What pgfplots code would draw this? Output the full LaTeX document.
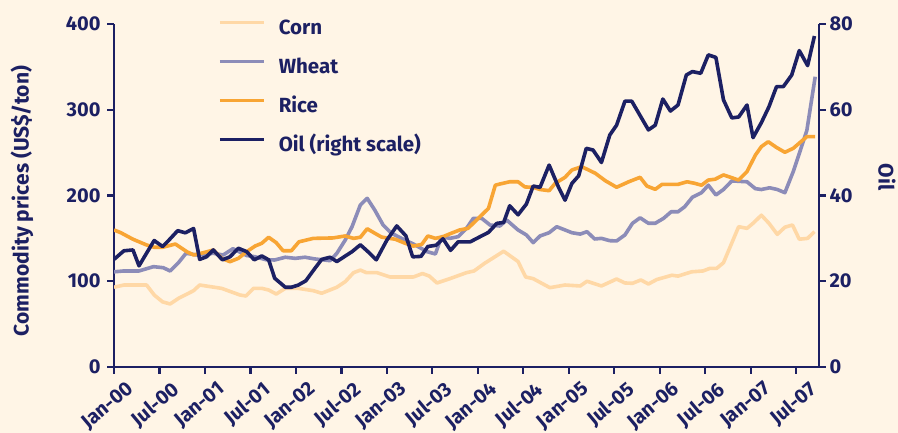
\documentclass[border=0pt]{standalone}
\usepackage{fontspec}
\setmainfont{Fira Sans}
\usepackage{pgfplots}
\pgfplotsset{compat=1.18}
\definecolor{bgcream}{HTML}{FFF5E6}
\definecolor{navy}{HTML}{1C2063}
\definecolor{corn}{HTML}{FFD8A6}
\definecolor{wheat}{HTML}{8C8CB8}
\definecolor{rice}{HTML}{F8A534}
\newcommand{\tf}{\fontsize{20}{23}\selectfont\bfseries}

\pgfplotsset{
  common/.style={
    at={(114pt,66pt)}, anchor=south west,
    scale only axis, width=705pt, height=343pt,
    xmin=0, xmax=93,
    tick align=outside, major tick length=7pt,
    axis line style={navy, line width=2.2pt},
    tick style={navy, line width=2.2pt},
    tick label style={font=\tf, text=navy},
    label style={font=\fontsize{21}{23}\selectfont\bfseries, text=navy},
    /pgf/number format/assume math mode=true,
    every axis plot/.append style={line width=3.6pt, line join=round, no markers},
  }
}

\begin{document}
\begin{tikzpicture}[x=1pt,y=1pt]
\fill[bgcream] (0,0) rectangle (898,433);
\path[use as bounding box] (0,0) rectangle (898,433);

\begin{axis}[common,
  ymin=0, ymax=400,
  axis x line*=bottom, axis y line*=left,
  ytick={0,100,...,400},
  xtick={0,6,...,90},
  xticklabels={Jan-00,Jul-00,Jan-01,Jul-01,Jan-02,Jul-02,Jan-03,Jul-03,Jan-04,Jul-04,Jan-05,Jul-05,Jan-06,Jul-06,Jan-07,Jul-07},
  xticklabel style={rotate=40, anchor=north east, inner sep=0pt, xshift=5pt, yshift=-12pt},
  yticklabel style={xshift=-3pt},
  ylabel={Commodity prices (US\$/ton)},
  ylabel style={at={(axis description cs:-0.1305,0.484)}, anchor=center},
  legend style={at={(0.1475,1.015)}, anchor=north west, draw=none, fill=none,
    font=\fontsize{20.5}{23}\selectfont\bfseries, text=navy, inner sep=0pt, row sep=19.5pt,
    nodes={inner sep=0pt, text height=15pt, text depth=4.5pt}},
  legend cell align=left,
  /tikz/every odd column/.append style={column sep=13pt},
  legend image code/.code={\draw[#1] (0pt,6.5pt) -- (44pt,6.5pt);},
]
\addplot[corn] coordinates {
(0,93) (1.3,95.6) (4.3,95.6) (5.3,84) (6.4,76) (7.4,73.5) (8.5,80) (10.5,89)
(11.3,95.6) (14.2,91.7) (16.6,84) (17.4,82.8) (18.4,91.7) (19.5,91.7) (20.4,89.8)
(21.4,85.1) (22.6,91.7) (24.3,91.7) (26.3,89) (27.4,86) (29.4,93) (30.5,99.5)
(31.6,110) (32.5,113) (33.3,110) (34.7,110) (36.4,105) (39.5,105) (40.7,109)
(41.6,106) (42.6,98) (44.3,103) (46.5,110) (47.5,112) (48.9,121) (49.8,126)
(51.4,135) (53.3,123) (54.3,105) (55.3,103) (57.5,92.5) (59.5,95.6) (61.5,94.5)
(62.4,100) (64.3,94.5) (66.3,102.6) (67.4,98) (68.4,97.6) (69.5,101.5) (70.5,96.8)
(71.6,102) (73.6,107) (74.4,106) (76.2,111) (77.7,112) (78.6,115) (79.5,115)
(80.4,121.6) (82.4,163.6) (83.5,161.7) (84.3,167.6) (85.4,177) (86.4,167.6)
(87.5,154.7) (88.5,163) (89.5,165.6) (90.4,149) (91.5,150) (92.4,157.8)
};
\addlegendentry{Corn}
\addplot[wheat] coordinates {
(0,111) (1.3,112) (3.3,112) (5.2,117) (6.5,115.8) (7.4,112) (8.5,121.6) (9.5,132.6)
(11,130.6) (13.1,132.6) (14.4,130.6) (15.7,138) (17.5,130) (18.6,128.6) (20.1,125)
(21.2,124.8) (22.6,128) (23.9,126.7) (25.2,128) (26.5,126) (28.5,124) (29.4,132.6)
(30.5,148) (31.4,163.6) (32.5,189) (33.4,196.7) (34.4,183) (35.5,165.6) (36.6,156)
(38.4,148) (39.5,143.4) (41.3,134.5) (42.4,131.8) (43.2,152) (44.3,150) (45.4,152)
(46.5,161.7) (47.4,173.4) (48.5,173.4) (49.6,165.6) (50.9,164.4) (51.8,171.4)
(53.3,159.8) (54.4,154) (55.3,145) (56.2,152.8) (57.4,156.6) (58.4,163.6) (59.5,159.8)
(60.4,156.6) (61.5,155) (62.4,157.8) (63.4,149.3) (64.3,150) (65.4,147.3) (66.3,147)
(67.4,154) (68.4,167.6) (69.4,174) (70.5,167.6) (71.4,167.6) (72.5,173.4) (73.5,181)
(74.4,181) (75.3,187) (76.3,198) (76.9,200.6) (77.5,203.3) (78.4,212) (79.4,200.6)
(80.4,207) (81.5,217) (83.5,216) (84.6,208) (85.4,207) (86.5,209) (87.5,207)
(88.5,203.3) (89.6,227.8) (90.7,257) (91.4,276) (92.5,338.5)
};
\addlegendentry{Wheat}
\addplot[rice] coordinates {
(0,159.8) (0.9,156.6) (2.5,149) (4.3,142.3) (5.3,139.6) (6.4,139.6) (8.1,143.4)
(9.6,134.5) (10.5,130.6) (11.8,133.3) (13.1,136.4) (14.2,126.7) (15.3,122.8)
(16.4,126.7) (17.5,134.5) (18.6,141) (19.5,144.3) (20.4,151.3) (21.4,145) (22.3,135.6)
(23.4,135.6) (24.4,146) (26.3,150) (28.9,150.5) (30.5,152.8) (31.6,150) (32.5,151.3)
(33.4,161.2) (34.4,156) (35.3,151.5) (37.1,149) (38.4,144.3) (39.5,141) (40.6,143)
(41.4,152.8) (42.4,150) (43.4,152) (44.5,156) (45.6,159.8) (46.7,161.7) (47.6,169.4)
(49.4,185) (50.3,212) (50.9,213.4) (52.2,216) (53.3,216) (54.2,210) (55.3,209.5)
(56.2,207) (57.4,205.6) (58.2,214.2) (59.5,221.2) (60.4,229.7) (61.7,233.6)
(63.5,225.9) (64.8,217.3) (66.3,209.6) (67.9,216) (69.4,221.2) (70.3,211) (71.4,207.2)
(72.3,213) (74.4,213) (75.6,216) (76.6,214.2) (77.5,212) (78.4,218) (79.3,219)
(80.4,224) (82.4,218) (83.5,227.8) (84.6,247) (85.4,257) (86.3,262.7) (87.4,256)
(88.5,250.4) (89.6,255) (91.4,268.6) (92.5,268.6)
};
\addlegendentry{Rice}
\addlegendimage{navy, line width=3.6pt}
\addlegendentry{Oil (right scale)}
\end{axis}

\begin{axis}[common,
  ymin=0, ymax=80,
  axis x line=none, axis y line*=right,
  ytick={0,20,...,80},
  ylabel={Oil},
  ylabel style={at={(axis description cs:1.0965,0.554)}, anchor=center, rotate=180},
]
\addplot[navy] coordinates {
(0,25.1) (1.3,27.1) (2.5,27.3) (3.3,23.6) (5.3,29.5) (6.4,28.1) (7.2,29.5) (8.4,31.8)
(9.4,31.3) (10.5,32.3) (11.3,25.1) (12.2,25.7) (13.1,27.3) (14.3,25.0) (15.3,25.7)
(16.4,27.7) (17.5,26.9) (18.5,25.0) (19.5,25.9) (20.4,25.0) (21.2,20.7) (22.6,18.6)
(23.4,18.6) (24.3,19.1) (25.3,20.1) (26.5,23.0) (27.4,25.1) (28.5,25.6) (29.4,24.6)
(30.7,26.1) (31.4,26.9) (32.5,28.5) (33.5,26.9) (34.6,25.0) (36.0,29.6) (37.3,32.9)
(38.5,30.6) (39.4,25.7) (40.5,25.8) (41.4,28.1) (42.5,28.4) (43.4,29.9) (44.4,27.2)
(45.4,29.2) (47.0,29.2) (48.3,30.4) (49.4,31.4) (50.5,33.5) (51.4,33.7) (52.2,37.6)
(53.3,35.5) (54.4,38.0) (55.3,42.2) (56.2,41.9) (57.4,47.1) (58.6,42.1) (59.5,38.9)
(60.4,42.8) (61.3,44.6) (62.3,51.0) (63.2,50.6) (64.3,47.7) (65.4,54.1) (66.3,56.4)
(67.4,62.0) (68.3,62.0) (70.5,55.3) (71.4,56.4) (72.4,62.5) (73.4,59.7) (74.4,61.1)
(75.5,68.1) (76.3,68.9) (77.4,68.5) (78.4,72.8) (79.4,72.2) (80.4,62.3) (81.5,58.1)
(82.4,58.3) (83.5,61.1) (84.3,53.5) (85.4,57.0) (86.4,60.7) (87.4,65.4) (88.3,65.4)
(89.4,68.1) (90.4,73.8) (91.5,70.3) (92.4,77.2)
};
\end{axis}
\end{tikzpicture}
\end{document}
